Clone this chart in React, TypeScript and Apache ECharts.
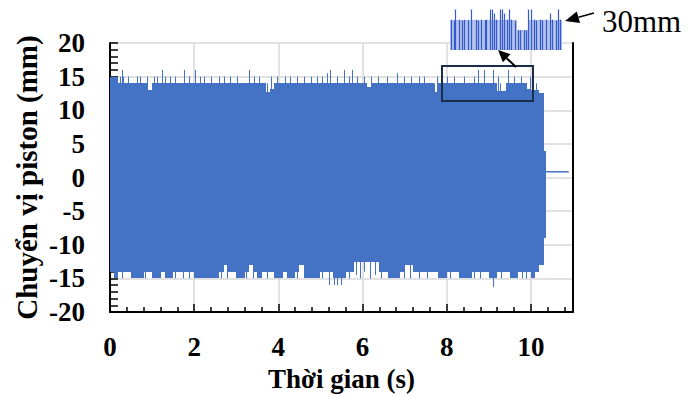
import React, { useEffect, useRef } from "react";
import * as echarts from "echarts";

// ---- data ----
const BIN = 0.1; // s, width of envelope bins
// upper edge of the dense oscillation, per 0.1 s bin from 0.0 s to 10.3 s
const upperBody = [
  15, 15, 14, 14, 14, 14, 14, 14, 14, 13,
  14, 14, 14, 14, 14, 14, 14, 14, 14, 14,
  14, 14, 14, 14, 14, 14, 14, 14, 14, 14,
  14, 14, 14, 14, 14, 14, 14, 12.7, 13.2, 14,
  14, 14, 14, 14, 14, 14, 14, 14, 14, 14,
  14, 14, 14, 14, 14, 14, 14, 14, 14, 14,
  14, 13.5, 14, 14, 14, 14, 14, 14, 14, 14,
  14, 14, 14, 14, 14, 14, 14, 12.7, 14, 14,
  14, 14, 14, 14, 14, 14, 14, 14, 14, 14,
  14, 14, 12.8, 12.8, 14, 14, 14, 14, 14, 13.2,
  13, 13, 12.5,
];
// lower edge, same bins
const lowerBody = [
  -14, -15, -14, -14, -14, -15, -15, -15, -14, -14,
  -15, -15, -14, -15, -15, -14, -14, -14, -14, -14,
  -15, -15, -15, -15, -15, -15, -14, -13, -14, -14,
  -15, -15, -14, -13, -14, -15, -14, -14, -14, -15,
  -15, -14, -15, -15, -14, -13, -15, -15, -15, -15,
  -14, -14, -14, -15, -15, -15, -14, -14, -12.5, -12.5,
  -12.5, -12.5, -12.5, -12.5, -14, -14, -15, -15, -15, -14,
  -13, -13, -14, -14, -14, -14, -14, -14, -15, -15,
  -14, -14, -14, -15, -15, -15, -14, -14, -14, -14,
  -15, -15, -14, -14, -14, -15, -15, -14, -14, -14,
  -15, -14, -13,
];
// short damped tail at the end of the test: [start, end, top, bottom]
const tailStart = [10.3];
const tailEnd = [10.36];
const tailTop = [4];
const tailBottom = [-9];
// isolated upper peaks
const upSpikeT = [
  0.25, 0.29, 0.33, 0.45, 0.65, 0.73, 0.89, 1.05, 1.13, 1.25, 1.33, 1.44, 1.56, 1.76, 1.88,
  2.04, 2.16, 2.24, 2.4, 2.6, 2.71, 2.87, 3.03, 3.31, 3.43, 3.55, 3.74, 3.83, 3.98, 4.18,
  4.3, 4.46, 4.62, 4.78, 4.94, 5.06, 5.17, 5.25, 5.41, 5.57, 5.69, 5.77, 5.89, 6.05, 6.21,
  6.37, 6.6, 6.84, 7.0, 7.16, 7.36, 7.48, 7.72, 7.79, 8.03, 8.19, 8.43, 8.67, 8.75, 8.9,
  9.1, 9.22, 9.27, 9.46, 9.62, 9.78, 9.98, 10.13,
];
const upSpikeV = [
  15, 16, 15, 15, 15, 15, 15, 15, 15, 16, 15, 15, 15, 16, 15,
  16, 15, 15, 15, 15, 15, 15, 15, 16, 15, 15, 14, 15, 15, 15,
  15, 15, 15, 15, 15, 15, 15.5, 16, 15, 16, 15, 16, 15, 15, 15,
  15, 15, 15.5, 15, 15, 15, 15, 14, 15, 15, 15, 15, 15, 16, 16,
  16, 15, 14, 16, 15, 15, 15, 14,
];
// isolated lower troughs
const lowSpikeT = [
  0.3, 0.85, 1.55, 1.75, 1.9, 2.65, 2.8, 3.25, 3.4, 3.75, 4.45, 5.05, 5.21, 5.33, 5.41,
  5.51, 5.7, 5.85, 5.95, 6.05, 6.2, 6.3, 6.45, 7.0, 7.15, 7.35, 7.55, 8.1, 8.65, 8.8,
  9.1, 9.3, 9.8, 9.9,
];
const lowSpikeV = [
  -15, -15, -15, -15, -15, -15, -15, -15, -15, -15, -15, -15, -16, -16, -16,
  -16, -15, -14.5, -15, -14, -15, -14.5, -15, -15, -15, -15, -15, -15, -15, -15,
  -16.3, -15, -15, -15,
];
// piston at rest after the test
const flatT = [10.36, 10.9];
const flatV = [0.85, 0.85];

// inset (zoom of the framed region 7.85–9.95 s)
const insetBodyStart = [7.85, 9.1, 9.31];
const insetBodyEnd = [9.1, 9.31, 9.95];
const insetBodyTop = [13.9, 11.9, 13.9];
const insetLineT = [
  7.87, 7.93, 7.96, 8.02, 8.08, 8.13, 8.19, 8.26, 8.34, 8.39, 8.45, 8.51, 8.54, 8.6, 8.64,
  8.69, 8.73, 8.79, 8.83, 8.88, 8.92, 8.96, 9.01, 9.07, 9.13, 9.18, 9.24, 9.29, 9.33, 9.37,
  9.43, 9.48, 9.54, 9.59, 9.65, 9.73, 9.78, 9.84, 9.89, 9.93,
];
const insetLineV = [
  14, 13.8, 16, 14, 13.8, 14, 13.9, 16, 14, 13.8, 14, 13.9, 14, 16, 16,
  15.2, 14, 16, 16, 15.2, 14, 16, 14, 13.8, 11.9, 11.9, 11.9, 11.9, 16, 16,
  14, 13.8, 14, 13.9, 14, 15.2, 14, 13.8, 16, 14,
];

const X_MIN = 0, X_MAX = 11, X_STEP = 2;
const Y_MIN = -20, Y_MAX = 20, Y_STEP = 5;
const INSET_X = [7.85, 9.95];
const INSET_Y = [8, 16.3];

const BLUE = "#4472c4";
const FONT = '"Liberation Serif", "Times New Roman", serif';

export default function App() {
  const ref = useRef<HTMLDivElement>(null);

  useEffect(() => {
    if (!ref.current) return;
    const chart = echarts.init(ref.current, null, { renderer: "svg" });

    const bodyData: number[][] = upperBody.map((u, i) => [i * BIN, (i + 1) * BIN, u, lowerBody[i]]);
    tailStart.forEach((s, i) => bodyData.push([s, tailEnd[i], tailTop[i], tailBottom[i]]));
    const upData = upSpikeT.map((t, i) => [t, upSpikeV[i]]);
    const lowData = lowSpikeT.map((t, i) => [t, lowSpikeV[i]]);
    const flatData = flatT.map((t, i) => [t, flatV[i]]);
    const insetBody = insetBodyStart.map((s, i) => [s, insetBodyEnd[i], insetBodyTop[i], INSET_Y[0]]);
    const insetLines = insetLineT.map((t, i) => [t, insetLineV[i]]);

    // pixel-snapped rectangles so adjacent bins tile without seams
    const rectItem = (fill: string) => (_p: any, api: any) => {
      const a = api.coord([api.value(0), api.value(2)]);
      const b = api.coord([api.value(1), api.value(3)]);
      const x0 = Math.round(a[0]);
      const x1 = Math.round(b[0]);
      return {
        type: "rect",
        shape: { x: x0, y: Math.round(a[1]), width: Math.max(1, x1 - x0), height: Math.round(b[1]) - Math.round(a[1]) },
        style: { fill },
      };
    };
    const spikeItem = (stroke: string, base: number, w: number) => (_p: any, api: any) => {
      const a = api.coord([api.value(0), base]);
      const b = api.coord([api.value(0), api.value(1)]);
      const x = Math.floor(a[0]) + 0.5;
      return {
        type: "line",
        shape: { x1: x, y1: a[1], x2: x, y2: b[1] },
        style: { stroke, lineWidth: w },
      };
    };

    const labelStyle = { fontFamily: FONT, fontWeight: "bold" as const, color: "#000" };

    const option: any = {
      animation: false,
      grid: [
        { left: 110, right: 118, top: 43, bottom: 86, containLabel: false, outerBoundsMode: "none" },
        { left: 450, top: 8, width: 112, height: 42, containLabel: false, outerBoundsMode: "none" },
      ],
      xAxis: [
        {
          type: "value",
          gridIndex: 0,
          min: X_MIN,
          max: X_MAX,
          interval: X_STEP,
          axisLine: { show: true, onZero: false, lineStyle: { color: "#000", width: 2 } },
          axisTick: { show: true, inside: true, length: 8, lineStyle: { color: "#000", width: 1.5 } },
          minorTick: { show: true, splitNumber: 5, length: 5, lineStyle: { color: "#000", width: 1.5 } },
          splitLine: { show: true, showMinLine: false, showMaxLine: false, lineStyle: { color: "#d9d9d9", width: 1.5 } },
          axisLabel: { ...labelStyle, fontSize: 27, margin: 21, showMaxLabel: false },
          name: "Thời gian (s)",
          nameLocation: "middle",
          nameGap: 53,
          nameMoveOverlap: false,
          nameTextStyle: { ...labelStyle, fontSize: 27 },
        },
        {
          type: "value",
          gridIndex: 1,
          min: INSET_X[0],
          max: INSET_X[1],
          show: false,
          splitLine: { show: false },
        },
      ],
      yAxis: [
        {
          type: "value",
          gridIndex: 0,
          min: Y_MIN,
          max: Y_MAX,
          interval: Y_STEP,
          axisLine: { show: true, onZero: false, lineStyle: { color: "#000", width: 2 } },
          axisTick: { show: true, inside: true, length: 8, lineStyle: { color: "#000", width: 1.5 } },
          minorTick: { show: true, splitNumber: 5, length: 8, lineStyle: { color: "#000", width: 1.5 } },
          splitLine: { show: true, showMinLine: false, lineStyle: { color: "#d9d9d9", width: 1.5 } },
          axisLabel: { ...labelStyle, fontSize: 27, margin: 25 },
          name: "Chuyển vị piston (mm)",
          nameLocation: "middle",
          nameRotate: 90,
          nameGap: 69,
          nameMoveOverlap: false,
          nameTextStyle: { ...labelStyle, fontSize: 29 },
        },
        {
          type: "value",
          gridIndex: 0,
          min: Y_MIN,
          max: Y_MAX,
          interval: Y_STEP,
          z: 10,
          axisLine: { show: true, onZero: false, lineStyle: { color: "#000", width: 2 } },
          axisTick: { show: false },
          axisLabel: { show: false },
          splitLine: { show: false },
        },
        {
          type: "value",
          gridIndex: 1,
          min: INSET_Y[0],
          max: INSET_Y[1],
          show: false,
          splitLine: { show: false },
        },
      ],
      series: [
        {
          type: "custom",
          xAxisIndex: 0,
          yAxisIndex: 0,
          renderItem: rectItem(BLUE),
          encode: { x: [0, 1], y: [2, 3] },
          data: bodyData,
          silent: true,
        },
        {
          type: "custom",
          xAxisIndex: 0,
          yAxisIndex: 0,
          renderItem: spikeItem(BLUE, 0, 1),
          encode: { x: 0, y: 1 },
          data: upData,
          silent: true,
        },
        {
          type: "custom",
          xAxisIndex: 0,
          yAxisIndex: 0,
          renderItem: spikeItem(BLUE, 0, 1),
          encode: { x: 0, y: 1 },
          data: lowData,
          silent: true,
        },
        {
          type: "line",
          xAxisIndex: 0,
          yAxisIndex: 0,
          data: flatData,
          symbol: "none",
          lineStyle: { color: BLUE, width: 1.5 },
          silent: true,
        },
        {
          type: "custom",
          xAxisIndex: 1,
          yAxisIndex: 2,
          renderItem: rectItem("#b3c3ec"),
          encode: { x: [0, 1], y: [2, 3] },
          data: insetBody,
          silent: true,
        },
        {
          type: "custom",
          xAxisIndex: 1,
          yAxisIndex: 2,
          renderItem: spikeItem("#3559cc", INSET_Y[0], 1.2),
          encode: { x: 0, y: 1 },
          data: insetLines,
          silent: true,
        },
      ],
      graphic: [
        {
          type: "rect",
          z: 100,
          shape: { x: 442, y: 66, width: 91, height: 35 },
          style: { fill: "none", stroke: "#1c2d4a", lineWidth: 2 },
        },
        {
          type: "line",
          z: 100,
          shape: { x1: 516, y1: 67, x2: 506.7, y2: 58.2 },
          style: { stroke: "#000", lineWidth: 2 },
        },
        {
          type: "polygon",
          z: 100,
          shape: { points: [[498, 50], [502.9, 62.2], [510.5, 54.2]] },
          style: { fill: "#000" },
        },
        {
          type: "line",
          z: 100,
          shape: { x1: 594, y1: 13, x2: 578.5, y2: 17.2 },
          style: { stroke: "#000", lineWidth: 1.5 },
        },
        {
          type: "polygon",
          z: 100,
          shape: { points: [[565, 21], [580.1, 22.9], [576.8, 11.4]] },
          style: { fill: "#000" },
        },
        {
          type: "text",
          z: 100,
          x: 602,
          y: 21,
          style: {
            text: "30mm",
            font: `31px ${FONT}`,
            fill: "#000",
            align: "left",
            verticalAlign: "middle",
          },
        },
      ],
    };

    chart.setOption(option);
    return () => chart.dispose();
  }, []);

  return (
    <div
      ref={ref}
      style={{ position: "fixed", left: 0, top: 0, width: 691, height: 398, background: "#fff" }}
    />
  );
}
